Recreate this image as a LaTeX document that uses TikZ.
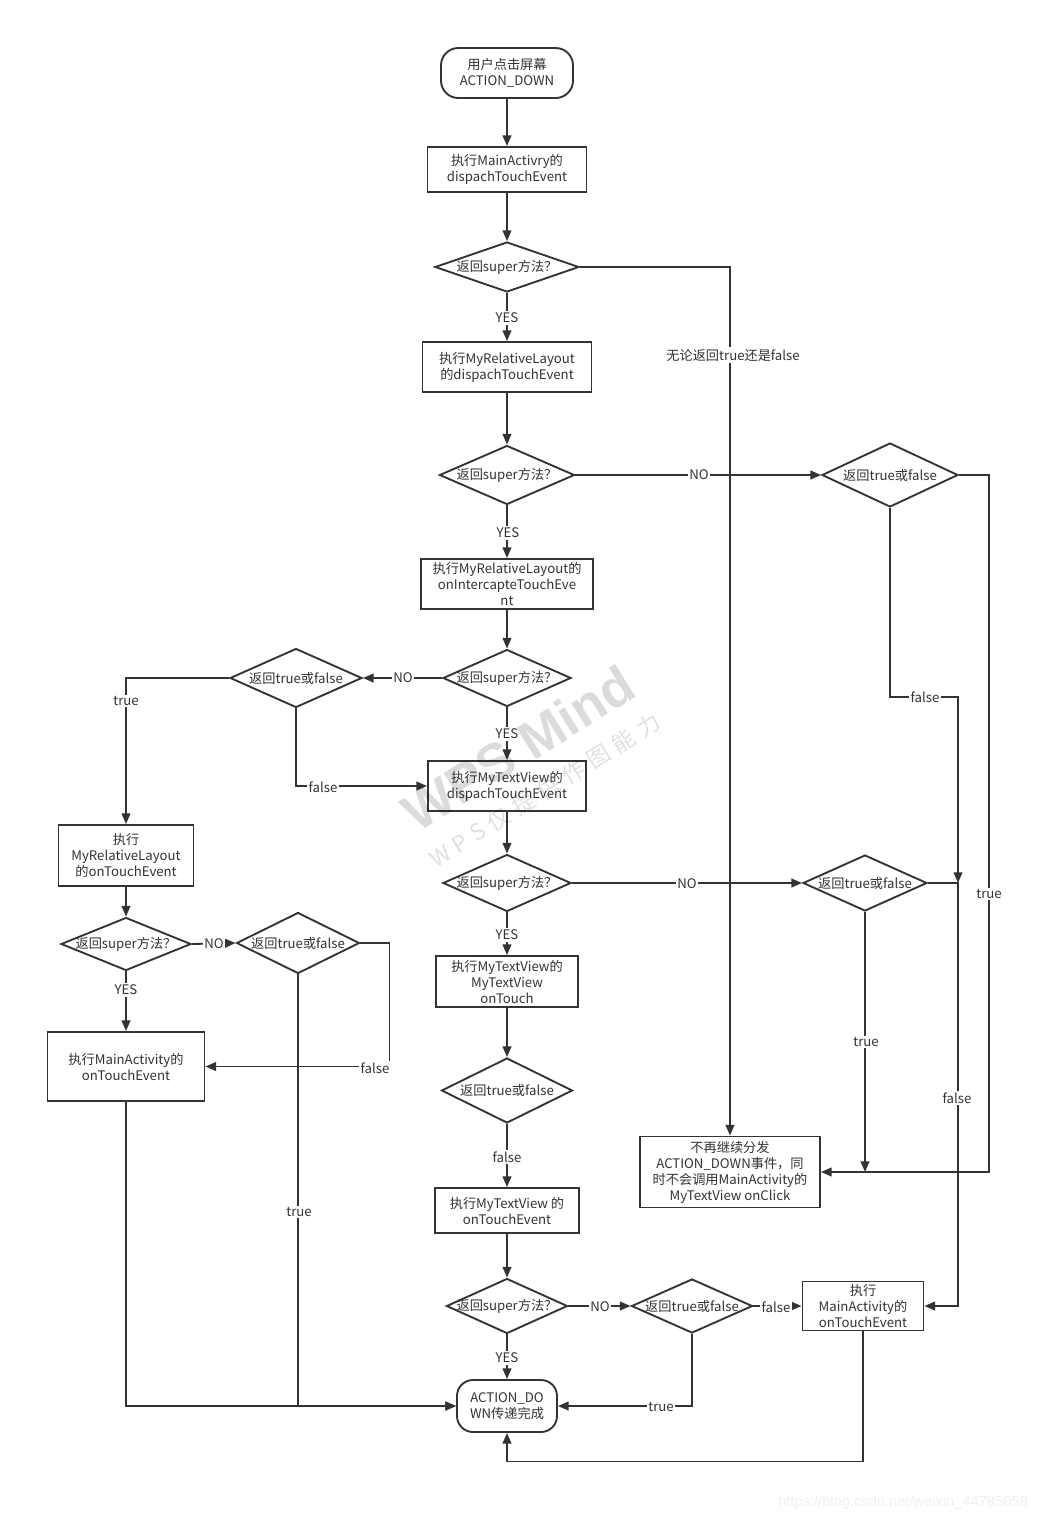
\documentclass[tikz,border=0pt]{standalone}
\usepackage{fontspec}
\setmainfont{Noto Sans CJK SC}
\newfontfamily\wmlatin{Liberation Sans}
\newfontfamily\wmcjk[LetterSpace=30]{Noto Sans CJK SC}
\usetikzlibrary{shapes.geometric,arrows.meta}
\definecolor{ink}{HTML}{333333}
\newcommand\flowfont{\fontsize{9.9}{12}\selectfont}
\begin{document}
\begin{tikzpicture}[x=0.75pt,y=-0.75pt,
  box/.style={draw=ink, line width=1.4pt, fill=white, align=center, inner sep=1pt, font=\flowfont, text=ink},
  term/.style={box, rounded corners=13pt},
  dia/.style={draw=ink, line width=1.4pt, diamond, inner sep=0pt, fill=white},
  dtxt/.style={font=\flowfont, inner sep=0pt, text=ink},
  ln/.style={draw=ink, line width=1.4pt},
  arr/.style={ln, -{Triangle[length=8pt,width=6.5pt]}},
  lbl/.style={fill=white, inner sep=1.2pt, font=\flowfont, text=ink}]
\useasboundingbox (0,0) rectangle (1049,1522);
\fill[white] (0,0) rectangle (1049,1522);

% ---- main column ----
\node[term, minimum width=99pt, minimum height=37.5pt] (start) at (507,73) {用户点击屏幕\\ACTION\_DOWN};
\node[box, minimum width=119.25pt, minimum height=33.75pt] (b1) at (507,169.5) {执行MainActivry的\\dispachTouchEvent};
\node[dia, minimum width=108pt, minimum height=37.5pt] (d1) at (507,267) {};
\node[dtxt] (d1t) at (d1) {返回super方法？};
\node[box, minimum width=126.75pt, minimum height=37.5pt] (b2) at (507,367) {执行MyRelativeLayout\\的dispachTouchEvent};
\node[dia, minimum width=101.25pt, minimum height=44.25pt] (d2) at (507,475) {};
\node[dtxt] (d2t) at (d2) {返回super方法？};
\node[box, minimum width=129pt, minimum height=37.5pt] (b3) at (507,584) {执行MyRelativeLayout的\\onIntercapteTouchEve\\nt};
\node[dia, minimum width=96pt, minimum height=42.75pt] (d3) at (507,678) {};
\node[dtxt] (d3t) at (d3) {返回super方法？};
\node[box, minimum width=118.5pt, minimum height=37.5pt] (b4) at (507,786) {执行MyTextView的\\dispachTouchEvent};
\node[dia, minimum width=96pt, minimum height=42.75pt] (d4) at (507,883) {};
\node[dtxt] (d4t) at (d4) {返回super方法？};
\node[box, minimum width=106.5pt, minimum height=38.25pt] (b5) at (507,981.5) {执行MyTextView的\\MyTextView\\onTouch};
\node[dia, minimum width=98.25pt, minimum height=48.75pt] (d5) at (507,1090.5) {};
\node[dtxt] (d5t) at (d5) {返回true或false};
\node[box, minimum width=108pt, minimum height=33.75pt] (b6) at (507,1210.5) {执行MyTextView 的\\onTouchEvent};
\node[dia, minimum width=90.75pt, minimum height=41.25pt] (d6) at (507,1306) {};
\node[dtxt] (d6t) at (d6) {返回super方法？};
\node[term, rounded corners=12pt, minimum width=75pt, minimum height=39pt] (end) at (507,1406) {ACTION\_DO\\WN传递完成};

% ---- right side ----
\node[dia, minimum width=102pt, minimum height=48pt] (r1) at (890,475) {};
\node[dtxt] (r1t) at (r1) {返回true或false};
\node[dia, minimum width=93pt, minimum height=42pt] (r2) at (865,883) {};
\node[dtxt] (r2t) at (r2) {返回true或false};
\node[box, minimum width=135pt, minimum height=53.25pt] (stop) at (730,1172) {不再继续分发\\ACTION\_DOWN事件，同\\时不会调用MainActivity的\\MyTextView onClick};
\node[dia, minimum width=90.75pt, minimum height=40.5pt] (r3) at (692,1306) {};
\node[dtxt] (r3t) at (r3) {返回true或false};
\node[box, minimum width=90.75pt, minimum height=36.75pt] (ma2) at (863,1306) {执行\\MainActivity的\\onTouchEvent};

% ---- left side ----
\node[dia, minimum width=99pt, minimum height=44.25pt] (l1) at (296,678) {};
\node[dtxt] (l1t) at (l1) {返回true或false};
\node[box, minimum width=101.25pt, minimum height=45.75pt] (l2) at (126,855.5) {执行\\MyRelativeLayout\\的onTouchEvent};
\node[dia, minimum width=97.5pt, minimum height=39.75pt] (l3) at (126,944) {};
\node[dtxt] (l3t) at (l3) {返回super方法？};
\node[dia, minimum width=92.25pt, minimum height=45.75pt] (l4) at (298,943) {};
\node[dtxt] (l4t) at (l4) {返回true或false};
\node[box, minimum width=117.75pt, minimum height=51.75pt] (l5) at (126,1066.5) {执行MainActivity的\\onTouchEvent};

% ---- connectors: main column ----
\draw[arr] (start.south) -- (b1.north);
\draw[arr] (b1.south) -- (d1.north);
\draw[arr] (d1.south) -- (b2.north);
\draw[arr] (b2.south) -- (d2.north);
\draw[arr] (d2.south) -- (b3.north);
\draw[arr] (b3.south) -- (d3.north);
\draw[arr] (d3.south) -- (b4.north);
\draw[arr] (b4.south) -- (d4.north);
\draw[arr] (d4.south) -- (b5.north);
\draw[arr] (b5.south) -- (d5.north);
\draw[arr] (d5.south) -- (b6.north);
\draw[arr] (b6.south) -- (d6.north);
\draw[arr] (d6.south) -- (end.north);

% ---- connectors: right side ----
\draw[arr] (d1.east) -- (d1.east -| stop.north) -- (stop.north);
\draw[arr] (d2.east) -- (r1.west);
\draw[arr] (r1.east) -- ++(30,0) |- (stop.east);
\coordinate (rjoin) at (958,883);
\draw[arr] (r1.south) |- (rjoin |- 0,697) -- (rjoin);
\draw[arr] (r2.east) -- (rjoin) |- (ma2.east);
\draw[arr] (d4.east) -- (r2.west);
\draw[arr] (r2.south) -- (r2.south |- stop.east);
\draw[arr] (d6.east) -- (r3.west);
\draw[arr] (r3.east) -- (ma2.west);
\draw[arr] (r3.south) |- (end.east);
\draw[arr] (ma2.south) -- ++(0,130) -| (end.south);

% ---- connectors: left side ----
\draw[arr] (d3.west) -- (l1.east);
\draw[arr] (l1.west) -| (l2.north);
\draw[arr] (l1.south) |- (b4.west);
\draw[arr] (l2.south) -- (l3.north);
\draw[arr] (l3.east) -- (l4.west);
\draw[arr] (l4.east) -- ++(29,0) |- (l5.east);
\draw[arr] (l3.south) -- (l5.north);
\draw[arr] (l4.south) |- (end.west);
\draw[arr] (l5.south) |- (end.west);

% ---- connector labels ----
\node[lbl] (y1) at (507,318) {YES};
\node[lbl] (any) at (733,355) {无论返回true还是false};
\node[lbl] (y2) at (508,533) {YES};
\node[lbl] (n2) at (699,475) {NO};
\node[lbl] (t1) at (989,894) {true};
\node[lbl] (f1) at (925,697) {false};
\node[lbl] (f2) at (957,1098) {false};
\node[lbl] (n3) at (403,678) {NO};
\node[lbl] (t2) at (126,701) {true};
\node[lbl] (f3) at (323,787) {false};
\node[lbl] (y3) at (507,734) {YES};
\node[lbl] (n4) at (687,884) {NO};
\node[lbl] (t3) at (866,1042) {true};
\node[lbl] (y4) at (507,935) {YES};
\node[lbl] (f4) at (507,1157) {false};
\node[lbl] (n6) at (600,1307) {NO};
\node[lbl] (f5) at (776,1307) {false};
\node[lbl] (t4) at (661,1407) {true};
\node[lbl] (y6) at (507,1358) {YES};
\node[lbl] (n7) at (214,944) {NO};
\node[lbl] (y7) at (126,990) {YES};
\node[lbl] (f6) at (375,1068) {false};
\node[lbl] (t5) at (299,1212) {true};

% ---- watermarks ----
\node[rotate=32, opacity=0.14, font=\wmlatin\bfseries\fontsize{40}{40}\selectfont] (wm1) at (518,748) {WPS Mind};
\node[rotate=32, opacity=0.12, font=\wmcjk\fontsize{17}{17}\selectfont] (wm2) at (545,790) {WPS仅提供作图能力};
\node[font=\wmlatin\fontsize{11}{11}\selectfont, text=black!6] (url) at (903,1503) {https://blog.csdn.net/weixin\_44785058};
\end{tikzpicture}
\end{document}
